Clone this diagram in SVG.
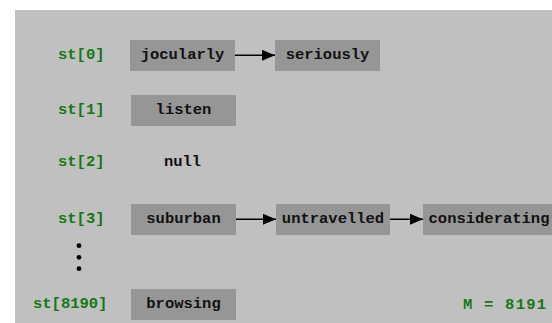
<svg xmlns="http://www.w3.org/2000/svg" width="552" height="323" viewBox="0 0 552 323">
<style>
.box{fill:#969696}
.t{font-family:"Liberation Mono","Courier New",monospace;font-weight:bold;font-size:15.5px;fill:#111}
.c{text-anchor:middle}
.lbl{font-family:"Liberation Mono","Courier New",monospace;font-weight:bold;font-size:15.5px;fill:#157815}
.arr{stroke:#000;stroke-width:1.6;fill:none;marker-end:url(#ah)}
</style>
<defs>
<marker id="ah" markerWidth="13" markerHeight="11" refX="13" refY="5.5" orient="auto" markerUnits="userSpaceOnUse">
<path d="M0,0 L13,5.5 L0,11 Z" fill="#000"/>
</marker>
</defs>
<rect x="0" y="0" width="552" height="323" fill="#ffffff"/>
<rect x="15" y="10" width="537" height="313" fill="#c0c0c0"/>
<g id="labels">
<text class="lbl" x="58" y="58.5">st[0]</text>
<text class="lbl" x="58" y="113.5">st[1]</text>
<text class="lbl" x="58" y="166">st[2]</text>
<text class="lbl" x="58" y="222.5">st[3]</text>
<text class="lbl" x="33" y="307.5">st[8190]</text>
<text class="lbl" x="463" y="309" textLength="83" lengthAdjust="spacing">M = 8191</text>
</g>
<g id="dots" fill="#000">
<circle cx="79" cy="245.7" r="2.4"/>
<circle cx="79" cy="257.3" r="2.4"/>
<circle cx="79" cy="268.7" r="2.4"/>
</g>
<g id="n-jocularly"><rect class="box" x="130" y="40" width="105" height="31"/><text class="t c" x="182.5" y="58.5">jocularly</text></g>
<g id="n-seriously"><rect class="box" x="275" y="40" width="105" height="31"/><text class="t c" x="327.5" y="58.5">seriously</text></g>
<g id="n-listen"><rect class="box" x="131" y="95" width="105" height="31"/><text class="t c" x="183.5" y="113.5">listen</text></g>
<g id="n-null"><text class="t c" x="182.5" y="166">null</text></g>
<g id="n-suburban"><rect class="box" x="131" y="204" width="105" height="31"/><text class="t c" x="183.5" y="222.5">suburban</text></g>
<g id="n-untravelled"><rect class="box" x="276" y="204" width="114" height="31"/><text class="t c" x="333" y="222.5">untravelled</text></g>
<g id="n-considerating"><rect class="box" x="423" y="204" width="132" height="31"/><text class="t c" x="489" y="222.5">considerating</text></g>
<g id="n-browsing"><rect class="box" x="131" y="289" width="105" height="31"/><text class="t c" x="183.5" y="307.5">browsing</text></g>
<g id="connectors">
<line class="arr" x1="235" y1="55.3" x2="275" y2="55.3"/>
<line class="arr" x1="236" y1="219.3" x2="276" y2="219.3"/>
<line class="arr" x1="390" y1="219.3" x2="423" y2="219.3"/>
</g>
</svg>
